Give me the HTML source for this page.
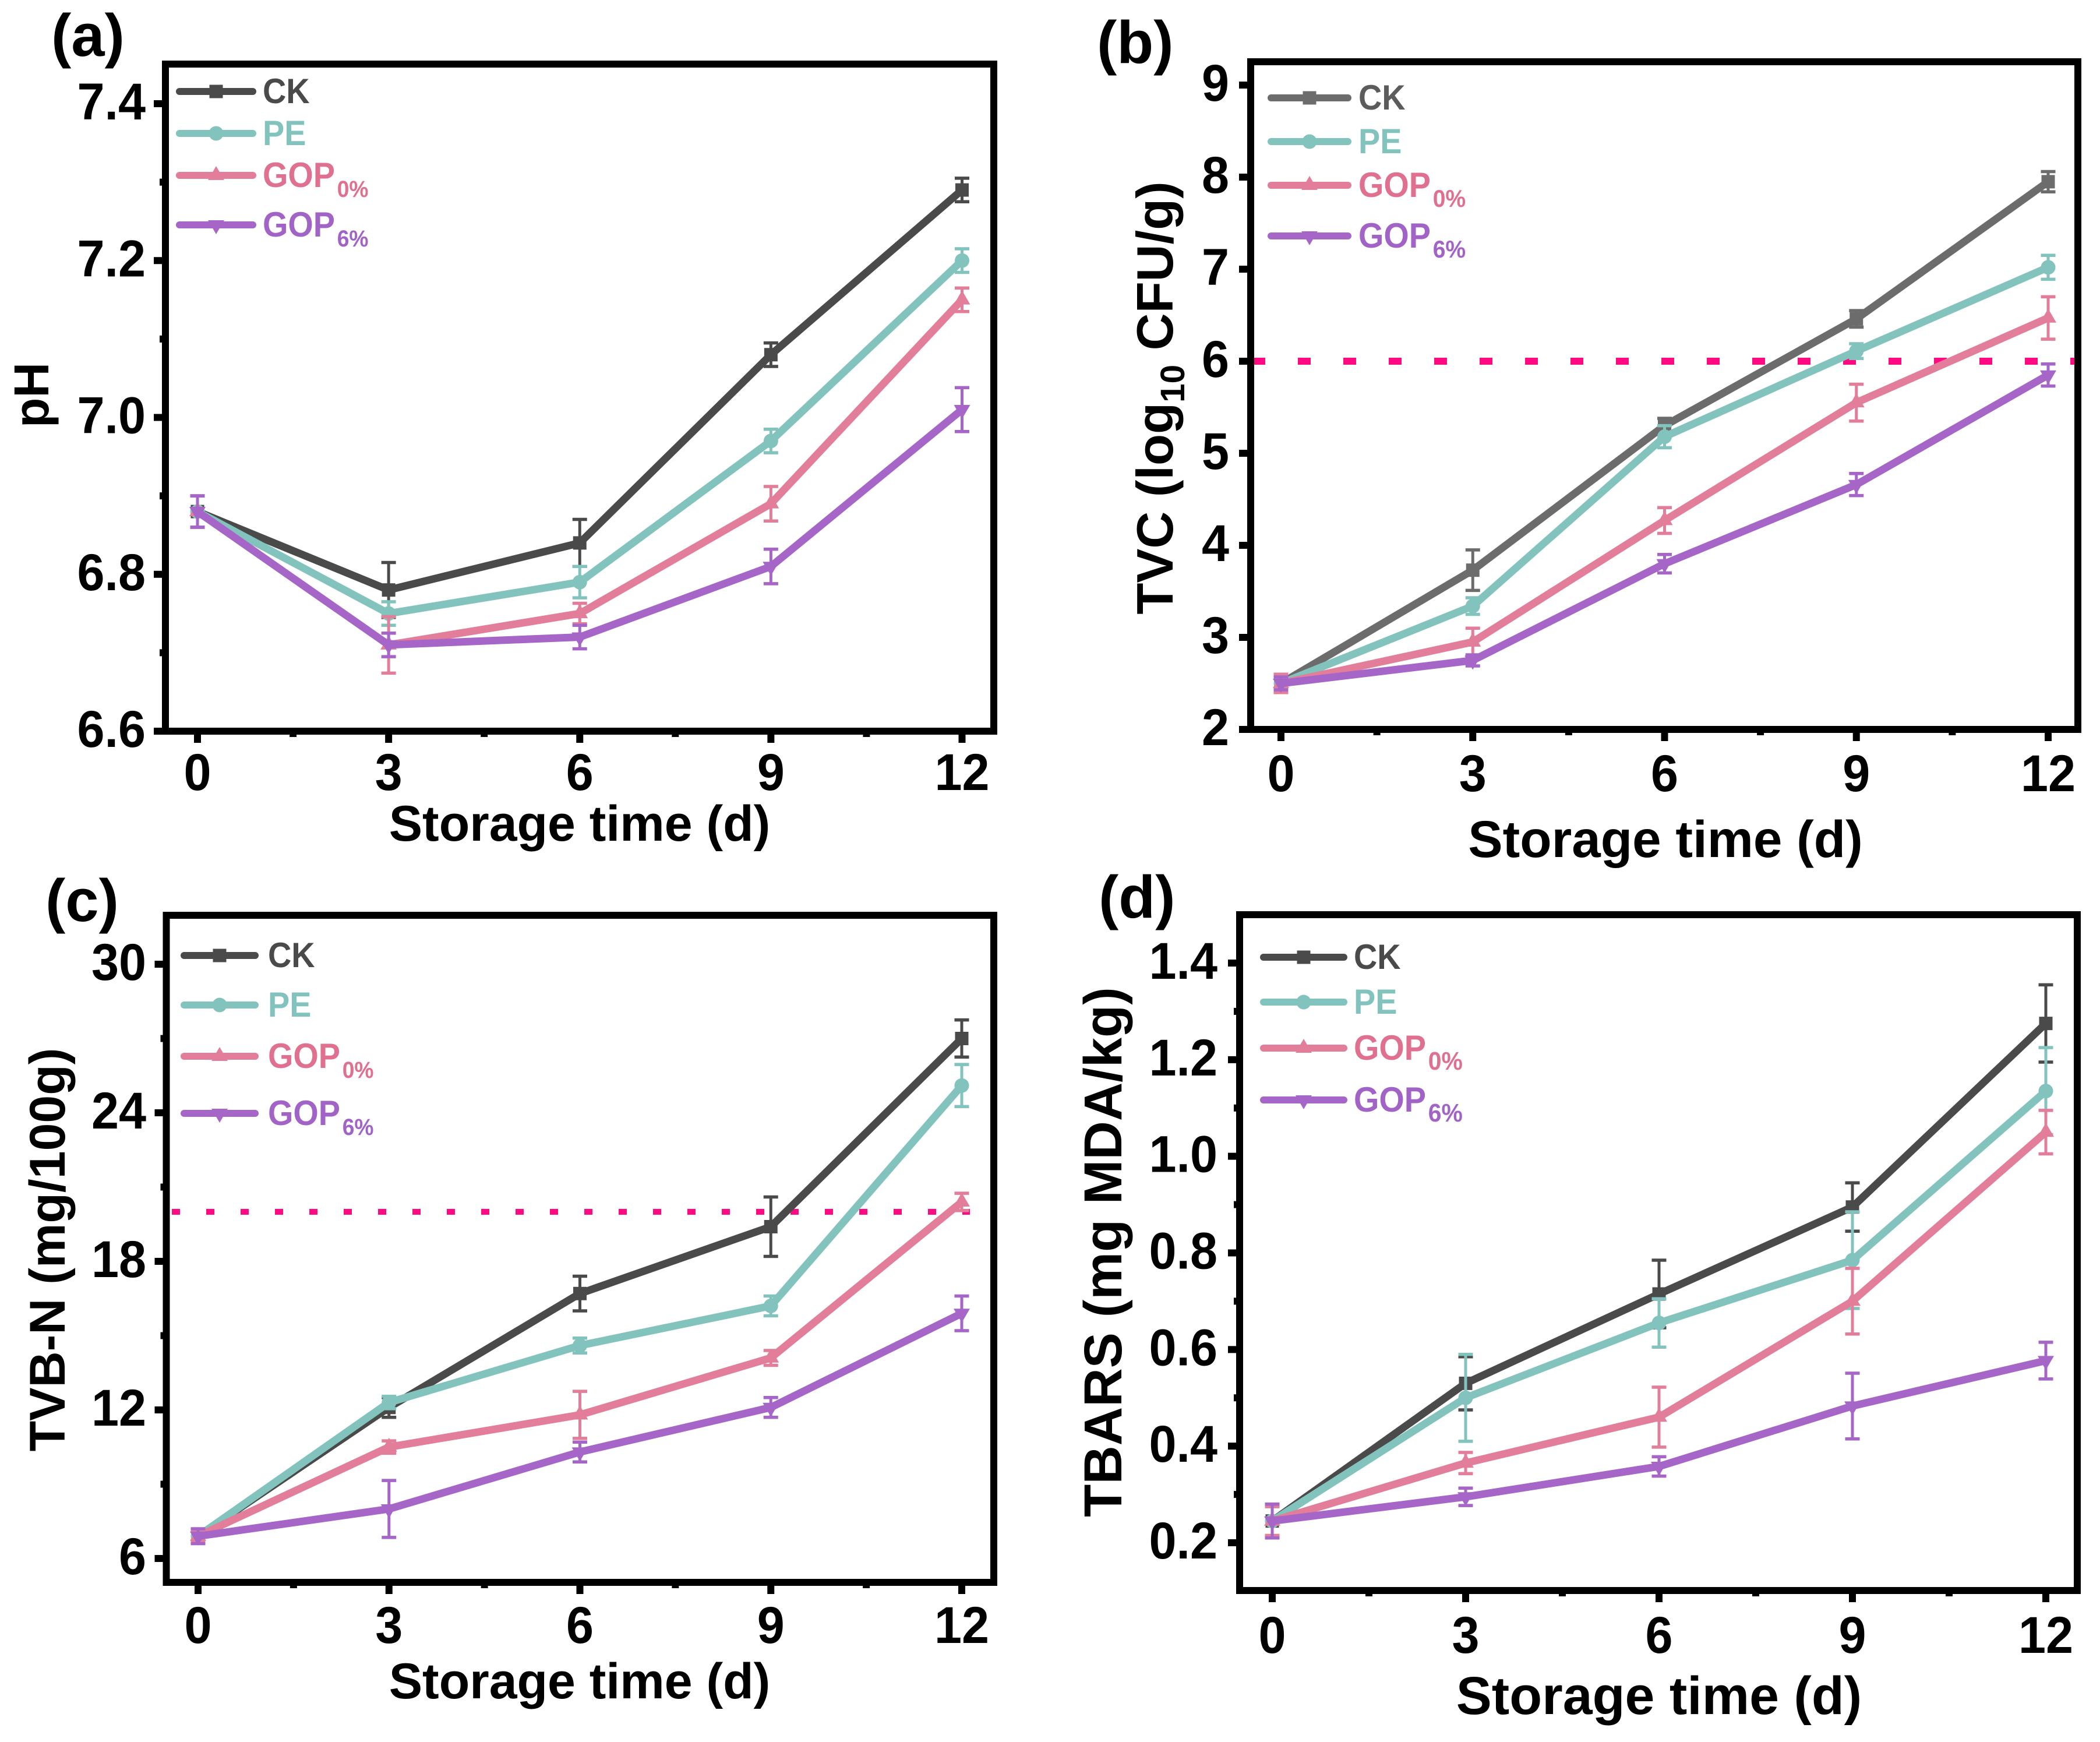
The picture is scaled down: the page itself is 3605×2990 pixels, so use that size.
<!DOCTYPE html>
<html lang="en">
<head>
<meta charset="utf-8">
<title>Storage quality charts</title>
<style>
html,body{margin:0;padding:0;background:#fff;}
svg{display:block;}
text{font-family:"Liberation Sans",sans-serif;font-weight:700;}
</style>
</head>
<body>
<svg id="figure" xmlns="http://www.w3.org/2000/svg" width="3605" height="2990" viewBox="0 0 3605 2990"></svg>
<script>
// Shared categories and labels
const days = [0, 3, 6, 9, 12];
const xTickLabels = ['0', '3', '6', '9', '12'];
const seriesNames = ['CK', 'PE', 'GOP', 'GOP'];
const seriesSubs = ['', '', '0%', '6%'];

// Panel (a) pH
const phTickLabels = ['6.6', '6.8', '7.0', '7.2', '7.4'];
const phCK = [6.88, 6.78, 6.84, 7.08, 7.29];
const phPE = [6.88, 6.75, 6.79, 6.97, 7.20];
const phGOP0 = [6.88, 6.71, 6.75, 6.89, 7.15];
const phGOP6 = [6.88, 6.71, 6.72, 6.81, 7.01];
const phCKErr = [0.02, 0.035, 0.03, 0.015, 0.015];
const phPEErr = [0.02, 0.015, 0.02, 0.015, 0.015];
const phGOP0Err = [0.02, 0.036, 0.013, 0.022, 0.015];
const phGOP6Err = [0.02, 0.015, 0.015, 0.022, 0.028];

// Panel (b) TVC
const tvcTickLabels = ['2', '3', '4', '5', '6', '7', '8', '9'];
const tvcLimit = 6;
const tvcCK = [2.5, 3.73, 5.3, 6.46, 7.95];
const tvcPE = [2.5, 3.34, 5.18, 6.11, 7.02];
const tvcGOP0 = [2.5, 2.95, 4.27, 5.55, 6.47];
const tvcGOP6 = [2.5, 2.75, 3.8, 4.66, 5.85];
const tvcCKErr = [0.08, 0.22, 0.08, 0.09, 0.11];
const tvcPEErr = [0.06, 0.09, 0.12, 0.08, 0.13];
const tvcGOP0Err = [0.1, 0.15, 0.14, 0.2, 0.23];
const tvcGOP6Err = [0.07, 0.06, 0.1, 0.12, 0.12];

// Panel (c) TVB-N
const tvbTickLabels = ['6', '12', '18', '24', '30'];
const tvbLimit = 20;
const tvbCK = [6.9, 12.1, 16.7, 19.4, 27.0];
const tvbPE = [6.9, 12.3, 14.6, 16.2, 25.1];
const tvbGOP0 = [6.9, 10.5, 11.8, 14.1, 20.4];
const tvbGOP6 = [6.9, 8.0, 10.3, 12.1, 15.9];
const tvbCKErr = [0.2, 0.4, 0.7, 1.2, 0.75];
const tvbPEErr = [0.2, 0.25, 0.3, 0.4, 0.85];
const tvbGOP0Err = [0.2, 0.25, 0.95, 0.3, 0.35];
const tvbGOP6Err = [0.3, 1.15, 0.4, 0.4, 0.7];

// Panel (d) TBARS
const tbarsTickLabels = ['0.2', '0.4', '0.6', '0.8', '1.0', '1.2', '1.4'];
const tbarsCK = [0.245, 0.53, 0.715, 0.895, 1.275];
const tbarsPE = [0.245, 0.5, 0.655, 0.785, 1.135];
const tbarsGOP0 = [0.245, 0.365, 0.46, 0.70, 1.05];
const tbarsGOP6 = [0.245, 0.295, 0.358, 0.483, 0.577];
const tbarsCKErr = [0.03, 0.055, 0.07, 0.05, 0.08];
const tbarsPEErr = [0.03, 0.09, 0.05, 0.1, 0.09];
const tbarsGOP0Err = [0.03, 0.022, 0.062, 0.068, 0.045];
const tbarsGOP6Err = [0.035, 0.018, 0.02, 0.068, 0.038];

const svg = document.getElementById('figure');
const NS = 'http://www.w3.org/2000/svg';
const colorPE = '#82c4bd', colorG0 = '#e27d9a', colorG6 = '#a566c8';
const textG0 = '#e0708f', textG6 = '#a263c6';

function mk(parent, tag, props) {
  const el = document.createElementNS(NS, tag);
  for (const k in props) el.setAttribute(k, props[k]);
  parent.appendChild(el);
  return el;
}
function line(parent, x1, y1, x2, y2, stroke, w, extra) {
  return mk(parent, 'line', Object.assign({x1, y1, x2, y2, stroke, 'stroke-width': w}, extra || {}));
}
function marker(parent, kind, x, y, color) {
  let el;
  if (kind === 0) el = mk(parent, 'rect', {x: x - 11.5, y: y - 11.5, width: 23, height: 23, fill: color});
  else if (kind === 1) el = mk(parent, 'circle', {cx: x, cy: y, r: 12.5, fill: color});
  else if (kind === 2) el = mk(parent, 'polygon', {points: (x - 14) + ',' + (y + 8) + ' ' + (x + 14) + ',' + (y + 8) + ' ' + x + ',' + (y - 16), fill: color});
  else el = mk(parent, 'polygon', {points: (x - 14) + ',' + (y - 8) + ' ' + (x + 14) + ',' + (y - 8) + ' ' + x + ',' + (y + 16), fill: color});
  return el;
}

function drawPanel(c) {
  const g = mk(svg, 'g', {});
  
  

  const yVals = c.yLabels.map(parseFloat);
  const yMin = yVals[0], yMax = yVals[yVals.length - 1];
  const xScale = v => c.x0 + (v - days[0]) * (c.x12 - c.x0) / (days[days.length - 1] - days[0]);
  const yScale = v => c.yLow + (v - yMin) * (c.yHigh - c.yLow) / (yMax - yMin);

  // limit line
  if (c.limit !== undefined) {
    const d = line(g, c.limX1, yScale(c.limit), c.limX2, yScale(c.limit), '#ff0a82', c.limW, {'stroke-dasharray': c.limDash});
    
    
  }

  // series
  c.series.forEach((vals, s) => {
    const sg = mk(g, 'g', {});
    
    
    const col = c.colors[s];
    vals.forEach((v, i) => {
      const px = xScale(days[i]);
      const hi = yScale(v + c.errors[s][i]), lo = yScale(v - c.errors[s][i]);
      const eb = mk(sg, 'g', {});
      
      
      line(eb, px, hi, px, lo, col, 5);
      line(eb, px - 12.5, hi, px + 12.5, hi, col, 5.5);
      line(eb, px - 12.5, lo, px + 12.5, lo, col, 5.5);
    });
    const pts = vals.map((v, i) => xScale(days[i]) + ',' + yScale(v)).join(' ');
    const pl = mk(sg, 'polyline', {points: pts, fill: 'none', stroke: col, 'stroke-width': 13, 'stroke-linejoin': 'round', 'stroke-linecap': 'round'});
    
    
    vals.forEach((v, i) => {
      const mkr = marker(sg, s, xScale(days[i]), yScale(v), col);
      
      
    });
  });

  // ticks
  const ticks = mk(g, 'g', {});
  
  
  days.forEach((d, i) => {
    const px = xScale(d);
    line(ticks, px, c.bottom, px, c.bottom + 20, '#000', 12);
    if (i < days.length - 1) {
      line(ticks, xScale(d + 1.5), c.bottom, xScale(d + 1.5), c.bottom + 10, '#000', 12);
    }
    const t = mk(g, 'text', {transform: 'translate(' + px + ',' + (c.bottom + c.xLabelOffset) + ') scale(0.95,1)', 'font-size': 89, 'text-anchor': 'middle', fill: '#000'});
    
    
    t.textContent = xTickLabels[i];
  });
  yVals.forEach((v, i) => {
    const py = yScale(v);
    line(ticks, c.left, py, c.left - 20, py, '#000', 12);
    if (c.yMinor && i < yVals.length - 1) {
      const m = (v + yVals[i + 1]) / 2;
      line(ticks, c.left, yScale(m), c.left - 10, yScale(m), '#000', 12);
    }
    const t = mk(g, 'text', {transform: 'translate(' + c.yLabelX + ',' + (py + 27) + ') scale(0.95,1)', 'font-size': 89, 'text-anchor': 'end', fill: '#000'});
    
    
    t.textContent = c.yLabels[i];
  });

  // frame
  const frame = mk(g, 'rect', {x: c.left, y: c.top, width: c.right - c.left, height: c.bottom - c.top, fill: 'none', stroke: '#000', 'stroke-width': 12});
  
  

  // legend
  const lg = mk(g, 'g', {});
  
  
  c.legendY.forEach((ly, s) => {
    const e = mk(lg, 'g', {});
    
    
    const col = c.colors[s];
    line(e, c.legX1, ly, c.legX2, ly, col, 12, {'stroke-linecap': 'round'});
    marker(e, s, (c.legX1 + c.legX2) / 2, ly, col);
    const t = mk(e, 'text', {transform: 'translate(' + c.legTextX + ',' + (ly + 20) + ') scale(0.93,1)', 'font-size': 60, fill: c.textColors[s]});
    t.textContent = seriesNames[s];
    if (seriesSubs[s]) {
      const sub = mk(t, 'tspan', {'font-size': c.legSubSize, dx: 4, dy: 17});
      sub.textContent = seriesSubs[s];
    }
  });

  // x title
  const xt = mk(g, 'text', {x: c.xTitleX, y: c.xTitleY, 'font-size': c.xTitleSize, 'text-anchor': 'middle', fill: '#000'});
  
  
  xt.textContent = 'Storage time (d)';

  // y title
  const yt = mk(g, 'text', {transform: 'translate(' + c.yTitleX + ',' + c.yTitleY + ') rotate(-90)', 'font-size': c.yTitleSize, 'text-anchor': 'middle', fill: '#000'});
  
  
  c.yTitleParts.forEach(p => {
    if (p.sub) {
      const a = mk(yt, 'tspan', {'font-size': c.yTitleSize * 0.66, dy: 20});
      a.textContent = p.t;
    } else {
      const a = mk(yt, 'tspan', p.after ? {dy: -20} : {});
      a.textContent = p.t;
    }
  });

  // panel letter
  const pl = mk(g, 'text', {x: c.letterX, y: c.letterY, 'font-size': 103, fill: '#000'});
  
  
  pl.textContent = c.letter;
}

drawPanel({
  id: 'ph', letter: '(a)', letterX: 88, letterY: 96,
  left: 284, right: 1706, top: 110, bottom: 1255,
  x0: 339, x12: 1651.5, yLow: 1255, yHigh: 178, yLabels: phTickLabels, yMinor: true,
  xLabelOffset: 101, yLabelX: 250, legSubSize: 40,
  series: [phCK, phPE, phGOP0, phGOP6],
  errors: [phCKErr, phPEErr, phGOP0Err, phGOP6Err],
  colors: ['#4a4a4a', colorPE, colorG0, colorG6],
  textColors: ['#4a4a4a', colorPE, textG0, textG6],
  legendY: [157, 229, 301, 386], legX1: 308, legX2: 434, legTextX: 451,
  xTitleX: 995, xTitleY: 1443, xTitleSize: 86,
  yTitleX: 83, yTitleY: 678, yTitleSize: 84, yTitleParts: [{t: 'pH'}]
});
drawPanel({
  id: 'tvc', letter: '(b)', letterX: 1883, letterY: 108,
  left: 2147, right: 3567, top: 106, bottom: 1252,
  x0: 2199, x12: 3516, yLow: 1252, yHigh: 146, yLabels: tvcTickLabels, yMinor: false,
  xLabelOffset: 106, yLabelX: 2110, legSubSize: 42,
  limit: tvcLimit, limX1: 2150, limX2: 3562, limW: 12, limDash: '22 56',
  series: [tvcCK, tvcPE, tvcGOP0, tvcGOP6],
  errors: [tvcCKErr, tvcPEErr, tvcGOP0Err, tvcGOP6Err],
  colors: ['#6c6c6c', colorPE, colorG0, colorG6],
  textColors: ['#5c5c5c', colorPE, textG0, textG6],
  legendY: [168, 243, 318, 405], legX1: 2182, legX2: 2314, legTextX: 2332,
  xTitleX: 2859, xTitleY: 1471, xTitleSize: 89,
  yTitleX: 2013, yTitleY: 683, yTitleSize: 88.5,
  yTitleParts: [{t: 'TVC (log'}, {t: '10', sub: true}, {t: ' CFU/g)', after: true}]
});
drawPanel({
  id: 'tvb-n', letter: '(c)', letterX: 78, letterY: 1581,
  left: 285.5, right: 1706, top: 1571, bottom: 2716,
  x0: 340, x12: 1651, yLow: 2675, yHigh: 1655, yLabels: tvbTickLabels, yMinor: true,
  xLabelOffset: 104, yLabelX: 251, legSubSize: 40,
  limit: tvbLimit, limX1: 295, limX2: 1665, limW: 10, limDash: '14 45',
  series: [tvbCK, tvbPE, tvbGOP0, tvbGOP6],
  errors: [tvbCKErr, tvbPEErr, tvbGOP0Err, tvbGOP6Err],
  colors: ['#4a4a4a', colorPE, colorG0, colorG6],
  textColors: ['#4a4a4a', colorPE, textG0, textG6],
  legendY: [1640, 1725, 1813, 1911], legX1: 316, legX2: 438, legTextX: 460,
  xTitleX: 995, xTitleY: 2915, xTitleSize: 86,
  yTitleX: 111, yTitleY: 2145, yTitleSize: 86,
  yTitleParts: [{t: 'TVB-N (mg/100g)'}]
});
drawPanel({
  id: 'tbars', letter: '(d)', letterX: 1886, letterY: 1575,
  left: 2128, right: 3566, top: 1570, bottom: 2730,
  x0: 2184, x12: 3512, yLow: 2648, yHigh: 1653, yLabels: tbarsTickLabels, yMinor: true,
  xLabelOffset: 107, yLabelX: 2090, legSubSize: 44,
  series: [tbarsCK, tbarsPE, tbarsGOP0, tbarsGOP6],
  errors: [tbarsCKErr, tbarsPEErr, tbarsGOP0Err, tbarsGOP6Err],
  colors: ['#4a4a4a', colorPE, colorG0, colorG6],
  textColors: ['#4a4a4a', colorPE, textG0, textG6],
  legendY: [1643, 1720, 1799, 1888], legX1: 2169, legX2: 2307, legTextX: 2324,
  xTitleX: 2848, xTitleY: 2942, xTitleSize: 91.5,
  yTitleX: 1925, yTitleY: 2149, yTitleSize: 92,
  yTitleParts: [{t: 'TBARS (mg MDA/kg)'}]
});
</script>
</body>
</html>
